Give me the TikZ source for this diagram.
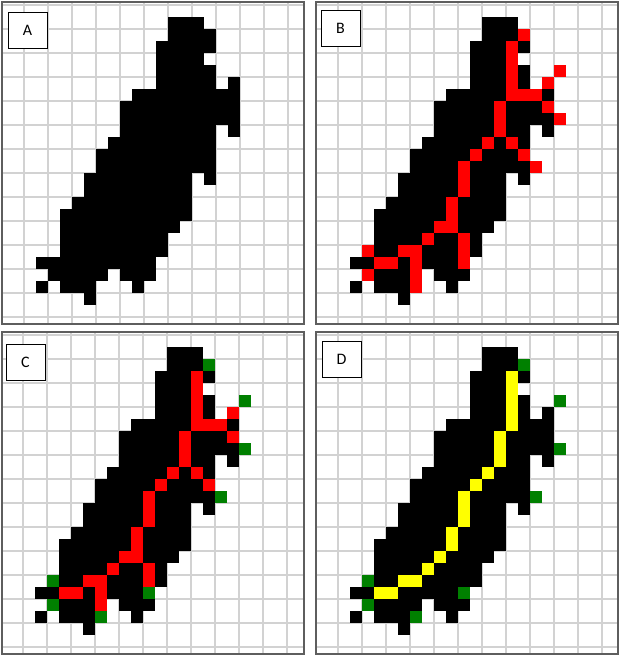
\documentclass[tikz,border=0pt]{standalone}
\usepackage{fontspec}
\setmainfont{Carlito}
\definecolor{gridc}{HTML}{D2D2D2}
\definecolor{framec}{HTML}{5E5E5E}
\definecolor{pxred}{HTML}{FF0000}
\definecolor{pxgreen}{HTML}{008000}
\definecolor{pxyellow}{HTML}{FFFF00}
\tikzset{
  gridline/.style={draw=gridc, line width=1.5pt},
  panelframe/.style={draw=framec, line width=2pt},
  lbl/.style={draw=black, fill=white, line width=0.9pt, minimum width=39pt, minimum height=36pt, inner sep=0pt, font=\fontsize{16}{16}\selectfont},
}
\newcommand{\shaperuns}{1/14/16,2/14/17,3/13/17,4/13/16,5/13/17,6/13/17,6/19/19,7/11/19,8/10/19,9/10/19,10/10/17,10/19/19,11/9/17,12/8/17,13/8/17,14/7/15,14/17/17,15/7/15,16/6/15,17/5/15,18/5/14,19/5/13,20/5/13,21/3/12,22/4/8,22/10/12,23/3/3,23/5/7,23/11/11,24/7/7}
\newcommand{\redlist}{17/2,16/3,16/4,20/5,16/5,16/6,19/6,16/7,17/7,18/7,15/8,19/8,15/9,20/9,15/10,14/11,16/11,13/12,17/12,12/13,18/13,12/14,12/15,11/16,11/17,10/18,11/18,9/19,12/19,4/20,7/20,8/20,12/20,5/21,6/21,8/21,12/21,4/22,8/22,8/23}
\newcommand{\greenlist}{17/2,20/5,20/9,18/13,4/20,12/21,4/22,8/23}
\newcommand{\yellowlist}{16/3,16/4,16/5,16/6,16/7,15/8,15/9,15/10,14/11,13/12,12/13,12/14,12/15,11/16,11/17,10/18,9/19,7/20,8/20,5/21,6/21}
\newcommand{\drawshape}[2]{%
  \foreach \j/\a/\b in \shaperuns {\fill[black] ({#1+12*\a},{#2+12*\j}) rectangle ({#1+12*\b+12},{#2+12*\j+12});}}
\newcommand{\drawpix}[4]{%
  \foreach \i/\j in #4 {\fill[#3] ({#1+12*\i},{#2+12*\j}) rectangle ({#1+12*\i+12},{#2+12*\j+12});}}
\newcommand{\panelgrid}[6]{%
  \begin{scope}
    \clip (#3,#4) rectangle (#5,#6);
    \foreach \k in {0,...,13} {\draw[gridline] (#3,{#2+24*\k}) -- (#5,{#2+24*\k});}
    \foreach \k in {1,...,12} {\draw[gridline] ({#1+24*\k},#4) -- ({#1+24*\k},#6);}
  \end{scope}}
\begin{document}
\begin{tikzpicture}[x=1pt,y=-1pt]
  \useasboundingbox (0,0) rectangle (623,660);
  \fill[white] (0,0) rectangle (623,660);
  % Panel A
  \panelgrid{0}{5}{1.5}{1.8}{304.3}{323.5}
  \drawshape{0}{5}
  \draw[panelframe] (1.5,1.8) rectangle (304.3,323.5);
  \node[lbl] (labA) at (27.5,30) {A};
  % Panel B
  \panelgrid{314}{5}{315.5}{1.8}{618.4}{323.8}
  \drawshape{314}{5}
  \drawpix{314}{5}{pxred}{\redlist}
  \draw[panelframe] (315.5,1.8) rectangle (618.4,323.8);
  \node[lbl] (labB) at (340.5,28) {B};
  % Panel C
  \panelgrid{-1}{335}{1.5}{332}{304.3}{653.8}
  \drawshape{-1}{335}
  \drawpix{-1}{335}{pxred}{\redlist}
  \drawpix{-1}{335}{pxgreen}{\greenlist}
  \draw[panelframe] (1.5,332) rectangle (304.3,653.8);
  \node[lbl] (labC) at (25.5,362) {C};
  % Panel D
  \panelgrid{314}{335}{315.5}{332}{618.4}{653.8}
  \drawshape{314}{335}
  \drawpix{314}{335}{pxyellow}{\yellowlist}
  \drawpix{314}{335}{pxgreen}{\greenlist}
  \draw[panelframe] (315.5,332) rectangle (618.4,653.8);
  \node[lbl] (labD) at (341.5,359) {D};
\end{tikzpicture}
\end{document}
